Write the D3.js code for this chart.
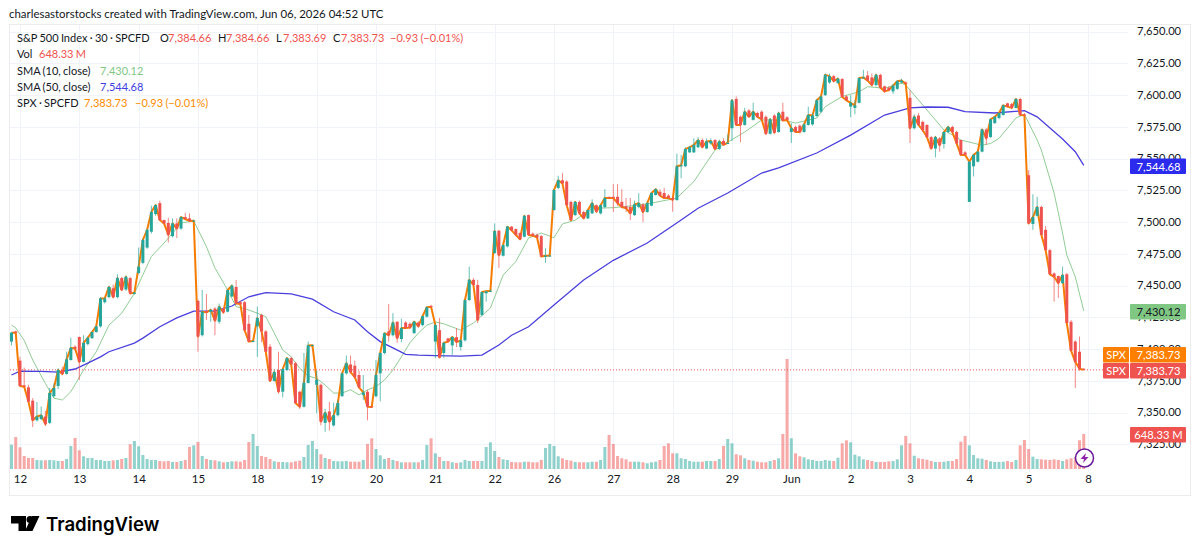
<!DOCTYPE html>
<html>
<head>
<meta charset="utf-8">
<script src="https://cdn.jsdelivr.net/npm/d3@7"></script>
<style>
  html, body { margin: 0; padding: 0; background: #fff; }
  svg { display: block; font-family: "Noto Sans", sans-serif; }
</style>
</head>
<body>
<div id="chart"></div>
<script>
// 30 minute candles, one row per session
const opens = [
  7406,7414,7391,7371.5,7370,7359.5,7344,7345,7347,7342,7363,7371,7383.6,7380.5,
  7391.5,7402,7409.6,7390,7404,7408.7,7413.5,7418,7437,7441,7448,7441,7456,7447,
  7456,7443.5,7460,7468,7480,7492.5,7506.4,7515,7501.7,7499.4,7489,7499,7495,7504,
  7503,7501,7438,7411,7430,7429.5,7432,7421.6,7431.6,7429.5,7441.5,7449,7437,7437,
  7420,7406,7418,7427,7414,7402,7375,7383.6,7366.5,7383.6,7393,7389,7366.5,7354.7,
  7373.4,7403,7372,7372,7342,7351,7340,7348,7363,7381,7388,7387,7379.7,7364,
  7366.5,7355,7363,7381,7397,7414,7411,7421.6,7408,7421,7420,7412.7,7421,7419,
  7425.6,7434,7406,7415,7397,7408.5,7403,7409.5,7401.7,7407,7438.7,7454.6,7450.6,7427,
  7444,7445.5,7475.7,7493.3,7473.6,7481,7496.5,7494.6,7491.5,7488.6,7505.6,7491,7490,7489,
  7472.7,7473.4,7509.6,7527,7533,7532,7516,7505.6,7516,7508,7503,7507,7513.4,7507,
  7512,7519.8,7520,7520,7516,7512.5,7512,7505.6,7512,7514,7508,7513,7521.4,7524,
  7523,7521,7519,7517.4,7544,7544,7555,7555,7559,7564.7,7558,7562,7564.7,7557.6,
  7564,7562,7574,7597,7583,7576.6,7588,7580.6,7586,7587,7583,7569.6,7584,7571,
  7587,7582.6,7571,7575,7576,7571,7576.6,7577,7583.6,7587,7600,7610,7615,7609.5,
  7612.7,7599,7591,7590,7594,7613.5,7615.5,7614,7608,7616,7607,7606,7603,7605,
  7610,7610,7598,7574,7584,7579,7576.6,7567,7558,7566,7561.6,7571,7575,7571,
  7564.7,7555,7516,7544,7547.6,7555.5,7573,7567,7578,7582,7584.4,7593.6,7593,7590,
  7597,7584.8,7537,7498.6,7505,7512,7494,7478,7459.7,7457.6,7452,7459,7421.6,7406,
  7398,7384.66
]
const highs = [
  7413.5,7414.5,7394,7385.5,7372,7361.5,7358.5,7355,7351.5,7369.5,7373,7385,7386,7398,
  7409,7403,7410,7411,7410,7414,7418.5,7441,7441,7450,7451,7459,7457,7458,
  7457,7445,7480,7487,7495,7513,7514,7517,7502,7503.5,7503,7503,7504.5,7507.5,
  7507,7502,7439,7446.6,7443.5,7432,7433,7436,7433,7447,7451,7454.5,7438,7438,
  7427,7407,7433.5,7428,7415,7404,7384,7398,7385,7393.5,7394,7390,7367,7397,
  7406,7403.5,7383,7373,7353,7358.5,7358,7360,7381.5,7395,7395,7391,7383,7379.7,
  7368,7355.5,7391.4,7397.5,7413,7435.6,7428.4,7422,7424,7422,7421,7422.5,7422,7426.5,
  7433.5,7435,7420,7424.5,7406,7409,7410,7416.6,7408,7439,7465,7456,7454.6,7445.5,
  7446,7447,7499,7494,7482.5,7497,7497,7495,7492,7505.5,7506,7492,7491,7490,
  7479.5,7474.5,7526,7536.6,7538.6,7533,7517,7516.5,7517,7509,7510,7518,7514,7514,
  7526,7520.5,7530,7530,7526,7519,7519,7517,7522.8,7515,7516,7523.5,7526.5,7526,
  7527,7522,7520,7554,7553,7559,7560,7566,7567,7566,7566,7566,7565.5,7565,
  7566,7569,7597,7599,7584,7590,7589,7594,7587,7588,7584,7582,7585,7587,
  7594,7583.5,7578,7576,7577,7578,7591,7586,7597,7600,7617,7617,7616,7614,
  7613.5,7600,7600,7596,7614,7620,7619,7617,7617,7617,7607.5,7607,7609,7612,
  7613,7611,7604,7585,7586,7580,7577,7568,7568,7567,7571.5,7576,7576,7572,
  7565,7556,7548,7553.5,7556,7573.5,7574,7581.5,7583.5,7586.5,7592.5,7594,7594,7597.5,
  7598,7586,7541,7522,7520,7513,7497,7479,7460.5,7458,7465,7460,7423,7407,
  7410,7384.66
]
const lows = [
  7403,7412.5,7371,7370,7358,7338.7,7343,7344,7339.5,7341,7362,7368.6,7379.5,7380,
  7391,7399,7375.7,7389.5,7403,7408,7413,7417,7436,7440,7440,7440,7446,7446,
  7443,7443,7459,7467,7479,7491,7505,7501,7498,7484,7488,7487.5,7494,7502,
  7500,7500.5,7398,7410,7423,7421.6,7411,7420,7428,7429,7441,7436,7435,7414,
  7405.5,7405.5,7394,7405.6,7398,7375,7374.5,7365,7362,7383,7388,7357,7353,7354,
  7373,7402.5,7349.5,7340,7335,7336,7339,7347,7362.5,7380,7381,7377,7369,7360,
  7344,7354,7362,7359,7396,7406,7410,7405,7405.5,7416,7416,7412,7417,7418,
  7425,7433,7393,7393,7393,7405,7395.5,7401.6,7399,7406,7438,7450,7420.6,7426,
  7437.4,7445,7475,7464,7473,7480,7493,7489,7486,7488,7489.5,7489,7487,7472.5,
  7468,7473,7509,7526,7530,7513,7501.6,7505,7506,7502.5,7502.5,7506.5,7507.5,7506,
  7511,7518.5,7508,7513,7511,7508,7501.6,7505,7511,7500,7507.5,7512.5,7521,7520.5,
  7518.5,7518.5,7508.3,7517,7534.6,7543.5,7554.5,7554.5,7558.5,7558.5,7557.5,7561,7557,7557,
  7560.5,7561.5,7564,7576,7563,7576,7582.5,7580,7582,7580,7569,7569,7570,7570.5,
  7579.5,7580,7562.4,7570.5,7570,7570.5,7576,7576,7583,7586,7599.5,7609,7610,7609,
  7598.6,7596,7582.6,7585,7593.5,7613,7611,7607,7607,7605,7602,7603,7601,7604,
  7609,7608.5,7562.4,7573,7576,7571,7566.5,7557.5,7551,7555.5,7558,7570,7570,7561.5,
  7552.5,7552.5,7516,7536,7547,7555,7561,7566.5,7577.5,7581,7584,7590.5,7589,7589.5,
  7584,7584,7498.6,7494,7504.5,7490,7478,7459,7437.4,7440.4,7451.5,7420.6,7398.8,7369.5,
  7383,7383.69
]
const closes = [
  7413,7413,7371,7370.5,7358.7,7344,7347,7348,7341,7365.5,7369.5,7383.6,7380.5,7392,
  7401,7400.5,7390,7405,7409,7413.5,7418,7440,7440,7449,7441,7456,7446.6,7457,
  7444,7444.5,7465,7486,7494,7508,7513.5,7501.7,7499,7490,7499,7495,7504,7502.5,
  7501,7501.2,7410,7429.5,7429,7431,7422.5,7433.5,7429,7446.6,7450,7436,7435.5,7415,
  7406,7406.5,7424.5,7414,7398,7375,7382,7366.5,7384.4,7393,7388,7357.6,7354.7,7373.6,
  7403,7403.2,7376,7343,7350,7343,7348,7357.6,7381,7389,7382,7378,7370,7366,
  7354.7,7354.5,7379.7,7397,7412.6,7411,7421,7408.7,7416.6,7416.6,7417,7421.6,7418,7426,
  7433,7433.5,7419,7393.5,7405,7406,7409.6,7405.6,7407,7438.7,7454.6,7450.6,7423,7445,
  7445.6,7446,7493,7474,7482,7496.5,7493.6,7490,7486.6,7505,7490,7489.4,7488,7473,
  7473.6,7473.7,7525.4,7533,7530.6,7513.4,7501.6,7516,7507,7503,7509.6,7515,7508.3,7513.4,
  7519,7519,7519,7515,7512,7511,7507,7514,7515,7508,7515,7523,7526,7521,
  7519,7519,7517.6,7544,7544.8,7557.6,7559,7560.8,7564.7,7559,7563.6,7564,7557.6,7563.6,
  7561,7562.4,7596,7576.5,7576.6,7587,7583,7587,7583,7581,7569.6,7581,7570.5,7586,
  7580,7580.5,7574,7571,7571,7577,7584.4,7584,7596,7599,7616,7615,7611,7613,
  7598.6,7596,7594,7592,7613.5,7614,7611.5,7608,7616,7606,7603,7604,7607.5,7611,
  7611.5,7609,7574,7583,7576.6,7572.6,7567,7558,7567,7560.6,7571,7575,7571,7562,
  7553,7553,7547.6,7553,7555.5,7573,7566,7581,7583,7586,7592,7591,7590,7597,
  7584.4,7584.2,7499,7504,7512,7490,7478,7459,7457,7452,7458.4,7420.6,7398.8,7390,
  7384.66,7383.73
]
// millions
const volumes = [
  450,592,401,241,204,204,167,161,161,167,161,148,148,185,
  426,574,346,235,204,204,167,167,148,148,161,167,185,204,
  457,518,420,259,185,167,167,148,142,148,130,130,148,167,
  407,438,500,241,185,167,161,142,124,130,142,142,135,167,
  500,648,426,241,222,185,142,130,130,124,124,142,154,222,
  444,518,370,272,204,185,148,142,142,148,135,135,135,167,
  463,568,370,253,185,204,167,148,124,124,124,124,124,167,
  444,568,290,222,148,148,124,111,124,167,148,148,148,148,
  407,494,333,222,179,167,130,124,124,135,135,124,124,167,
  389,463,426,235,198,167,154,130,124,124,124,135,135,167,
  407,629,463,241,198,179,135,135,135,124,105,124,135,167,
  426,475,290,290,198,185,148,135,135,135,148,148,148,185,
  426,555,475,272,253,198,167,154,135,124,124,148,167,198,
  648,2035,568,290,235,216,179,167,148,148,167,154,148,209,
  475,531,494,265,235,179,167,148,130,130,130,142,148,179,
  438,611,475,246,198,185,172,148,130,130,135,148,148,185,
  505,611,438,259,198,191,167,142,130,130,135,148,130,167,
  438,537,370,228,185,179,172,167,179,167,148,179,198,222,
  531,648
]

// moving averages, read at the bars where the line bends
const sma10Bars = [0,1,3,5,8,10,12,14,17,20,23,26,29,33,36,38,40,43,46,48,51,53,55,58,60,62,64,66,68,70,72,74,76,78,80,82,84,86,88,90,92,94,96,98,100,102,106,109,113,116,119,122,125,128,130,133,137,142,148,151,157,161,166,169,173,177,182,185,190,192,196,200,202,206,210,211,218,220,224,229,231,233,235,237,239,242,243,246,248,249,251,253]
const sma10Values = [7419,7416.7,7407,7391.5,7373,7361.5,7360,7366.5,7383.6,7398,7419,7428.3,7444,7473,7483.6,7491.4,7499.4,7501,7480.7,7464,7446.6,7433.5,7432,7428.4,7425.6,7412.7,7399.4,7394,7385,7379,7377,7371.8,7365.5,7365.5,7368,7364,7368,7370.5,7375.7,7383.6,7394,7405,7412.7,7419,7421.4,7420,7415,7420.6,7432.4,7458.4,7469,7487.6,7491.5,7487.8,7498.6,7501.6,7511,7511.4,7513.5,7515,7519,7532,7556.8,7563,7571,7580.5,7580.5,7578,7582,7591,7599,7602.7,7606.7,7605.5,7609.6,7608,7580.5,7572.6,7564.7,7560.6,7562,7566,7574,7582,7585,7564.7,7556.8,7523,7491.5,7474,7457,7430.12]

const sma50Bars = [0,2,7,11,15,18,21,23,29,31,35,39,43,48,52,56,60,66,71,76,81,84,87,90,93,96,100,106,111,115,118,122,128,135,142,150,158,162,169,177,181,190,198,206,212,216,221,225,232,239,242,248,251,253]
const sma50Values = [7379.7,7382.8,7382.6,7382,7384.4,7389,7394,7398,7404.8,7408.7,7417.7,7424.6,7430,7430,7434,7441.3,7444.5,7443.5,7439.4,7429.5,7423,7413.8,7406,7401,7396,7395.4,7395,7394.5,7395.4,7403.3,7411,7417.7,7434.8,7454.5,7470,7483.6,7501.7,7511,7523,7538.7,7542.7,7554.5,7568.6,7584.4,7590,7590.7,7590.5,7587,7586,7587.8,7583,7565.5,7555.5,7544.68]

const priceTicks = [7325,7350,7375,7400,7425,7450,7475,7500,7525,7550,7575,7600,7625,7650]
const dayBars = [2,16,30,44,58,72,86,100,114,128,142,156,170,184,198,212,226,240,254]
const dayLabels = ['12','13','14','15','18','19','20','21','22','26','27','28','29','Jun','2','3','4','5','8']

const width = 1200, height = 552
const green = '#26a69a', red = '#ef5350', orange = '#f57c00'
const sma10Color = '#81c784', sma50Color = '#4a3fdc'
const textColor = '#131722', gridColor = '#f0f3fa'
const labelFont = 'Lato, "Noto Sans", sans-serif'

const x = d3.scaleLinear().domain([0, 254]).range([11.5, 1088])
const y = d3.scaleLinear().domain([7350, 7650]).range([412.7, 31.7])
const yVol = d3.scaleLinear().domain([0, 2035]).range([469, 359])

const svg = d3.select('#chart').append('svg')
  .attr('width', width)
  .attr('height', height)
  .style('font-family', labelFont)

const bars = d3.range(closes.length)

// frame
svg.append('rect')
  .attr('x', 9.5).attr('y', 24.5)
  .attr('width', 1181).attr('height', 471)
  .attr('fill', 'none').attr('stroke', '#ececec')

// grid
svg.append('g').selectAll('line').data(priceTicks).join('line')
  .attr('x1', 10).attr('x2', 1128)
  .attr('y1', d => Math.round(y(d)) + 0.5).attr('y2', d => Math.round(y(d)) + 0.5)
  .attr('stroke', gridColor)
svg.append('g').selectAll('line').data(dayBars).join('line')
  .attr('x1', d => Math.round(x(d)) + 0.5).attr('x2', d => Math.round(x(d)) + 0.5)
  .attr('y1', 25).attr('y2', 472)
  .attr('stroke', gridColor)

// volume
svg.append('g').selectAll('rect').data(bars).join('rect')
  .attr('x', i => x(i) - 1.5)
  .attr('width', 3)
  .attr('y', i => yVol(volumes[i]))
  .attr('height', i => yVol(0) - yVol(volumes[i]))
  .attr('fill', i => closes[i] >= opens[i] ? green : red)
  .attr('fill-opacity', 0.5)

// last price dotted line
svg.append('line')
  .attr('x1', 10).attr('x2', 1103)
  .attr('y1', y(7383.73)).attr('y2', y(7383.73))
  .attr('stroke', red).attr('stroke-dasharray', '1 2')

// moving averages
const sma10Line = d3.line().x((d, i) => x(sma10Bars[i])).y(d => y(d))
const sma50Line = d3.line().x((d, i) => x(sma50Bars[i])).y(d => y(d))
svg.append('path').attr('d', sma10Line(sma10Values))
  .attr('fill', 'none').attr('stroke', '#92cc95').attr('stroke-width', 1)
svg.append('path').attr('d', sma50Line(sma50Values))
  .attr('fill', 'none').attr('stroke', sma50Color).attr('stroke-width', 1.3)

// SPX close line sits under the candles
const closeLine = d3.line().x((d, i) => x(i)).y(d => y(d))
svg.append('path').attr('d', closeLine(closes))
  .attr('fill', 'none').attr('stroke', orange).attr('stroke-width', 2)
  .attr('stroke-linejoin', 'round')

// candles
const candles = svg.append('g').selectAll('g').data(bars).join('g')
candles.append('line')
  .attr('x1', i => x(i)).attr('x2', i => x(i))
  .attr('y1', i => y(highs[i])).attr('y2', i => y(lows[i]))
  .attr('stroke', i => closes[i] >= opens[i] ? green : red)
  .attr('stroke-opacity', 0.7)
candles.append('rect')
  .attr('x', i => x(i) - 1.5)
  .attr('width', 3)
  .attr('y', i => y(Math.max(opens[i], closes[i])))
  .attr('height', i => Math.max(1, Math.abs(y(opens[i]) - y(closes[i]))))
  .attr('fill', i => closes[i] >= opens[i] ? green : red)

// axes
const yAxis = d3.axisRight(y)
  .tickValues(priceTicks)
  .tickSize(0)
  .tickPadding(0)
  .tickFormat(d3.format(',.2f'))
const yG = svg.append('g').attr('transform', 'translate(1137,-0.5)').call(yAxis)
yG.select('.domain').remove()
yG.selectAll('text').attr('font-size', 11.2).attr('fill', textColor).attr('font-family', labelFont)

const xAxis = d3.axisBottom(x)
  .tickValues(dayBars)
  .tickSize(0)
  .tickPadding(0)
  .tickFormat((d, i) => dayLabels[i])
const xG = svg.append('g').attr('transform', 'translate(0,475)').call(xAxis)
xG.select('.domain').remove()
xG.selectAll('text').attr('font-size', 11.5).attr('fill', textColor).attr('font-family', labelFont)

// price tags on the right
const tags = [
  { text: '7,544.68', top: 158.5, bg: '#2b2bee', fg: '#fff' },
  { text: '7,430.12', top: 304, bg: sma10Color, fg: textColor },
  { text: '7,383.73', top: 347, bg: '#ff7f00', fg: '#fff', name: 'SPX' },
  { text: '7,383.73', top: 363, bg: red, fg: '#fff', name: 'SPX' },
  { text: '648.33 M', top: 427, bg: red, fg: '#fff' }
]
const tagG = svg.append('g').selectAll('g').data(tags).join('g')
tagG.append('rect')
  .attr('x', 1130).attr('y', d => d.top)
  .attr('width', 56).attr('height', 15.5).attr('rx', 1)
  .attr('fill', d => d.bg)
tagG.append('text')
  .attr('x', 1158.5).attr('y', d => d.top + 12)
  .attr('text-anchor', 'middle').attr('font-size', 11.2)
  .attr('fill', d => d.fg)
  .text(d => d.text)
const named = tagG.filter(d => d.name)
named.append('rect')
  .attr('x', 1103).attr('y', d => d.top)
  .attr('width', 26).attr('height', 15.5).attr('rx', 1)
  .attr('fill', d => d.bg)
named.append('text')
  .attr('x', 1116).attr('y', d => d.top + 12)
  .attr('text-anchor', 'middle').attr('font-size', 11)
  .attr('fill', d => d.fg)
  .text(d => d.name)

// header
svg.append('text')
  .attr('x', 9).attr('y', 18)
  .attr('font-size', 11.45).attr('fill', textColor)
  .text('charlesastorstocks created with TradingView.com, Jun 06, 2026 04:52 UTC')

// legend rows, each piece placed at its own x like the TradingView legend
const legendRows = [
  { y: 42, parts: [['S&P 500 Index · 30 · SPCFD', textColor, 17], ['O', textColor, 160], ['7,384.66', red, 168], ['H', textColor, 218], ['7,384.66', red, 226], ['L', textColor, 276], ['7,383.69', red, 283], ['C', textColor, 333], ['7,383.73', red, 341], ['−0.93 (−0.01%)', red, 390]] },
  { y: 58, parts: [['Vol', textColor, 17], ['648.33 M', red, 39]] },
  { y: 75, parts: [['SMA (10, close)', textColor, 17], ['7,430.12', sma10Color, 100]] },
  { y: 91, parts: [['SMA (50, close)', textColor, 17], ['7,544.68', '#3d3de0', 100]] },
  { y: 107, parts: [['SPX · SPCFD', textColor, 17], ['7,383.73', '#fb8c00', 84], ['−0.93 (−0.01%)', '#fb8c00', 135]] }
]
const legend = svg.append('g').attr('font-size', 11).attr('word-spacing', -0.5).selectAll('text').data(legendRows).join('text')
  .attr('y', d => d.y)
legend.selectAll('tspan').data(d => d.parts).join('tspan')
  .attr('x', d => d[2])
  .attr('fill', d => d[1])
  .text(d => d[0])

// lightning badge
const badge = svg.append('g').attr('transform', 'translate(1084.5,458)')
badge.append('circle').attr('r', 9).attr('fill', '#fff').attr('stroke', '#6a1b9a').attr('stroke-width', 1.5)
badge.append('path').attr('d', 'M1.5 -5 L-4 1 L-0.5 1 L-1.5 5 L4 -1 L0.5 -1 Z').attr('fill', '#8e24aa')

// TradingView logo
svg.append('path')
  .attr('d', 'M11 516 H26 V531 H18.5 V523.5 H11 Z M39.5 516 L32.5 531 H25 L32 516 Z')
  .attr('fill', '#000')
svg.append('circle').attr('cx', 30).attr('cy', 519.5).attr('r', 3.5).attr('fill', '#000')
svg.append('text')
  .attr('x', 46).attr('y', 530.5)
  .attr('font-family', 'Inter, sans-serif')
  .attr('font-size', 18.6).attr('font-weight', 600).attr('fill', '#000')
  .text('TradingView')
</script>
</body>
</html>
